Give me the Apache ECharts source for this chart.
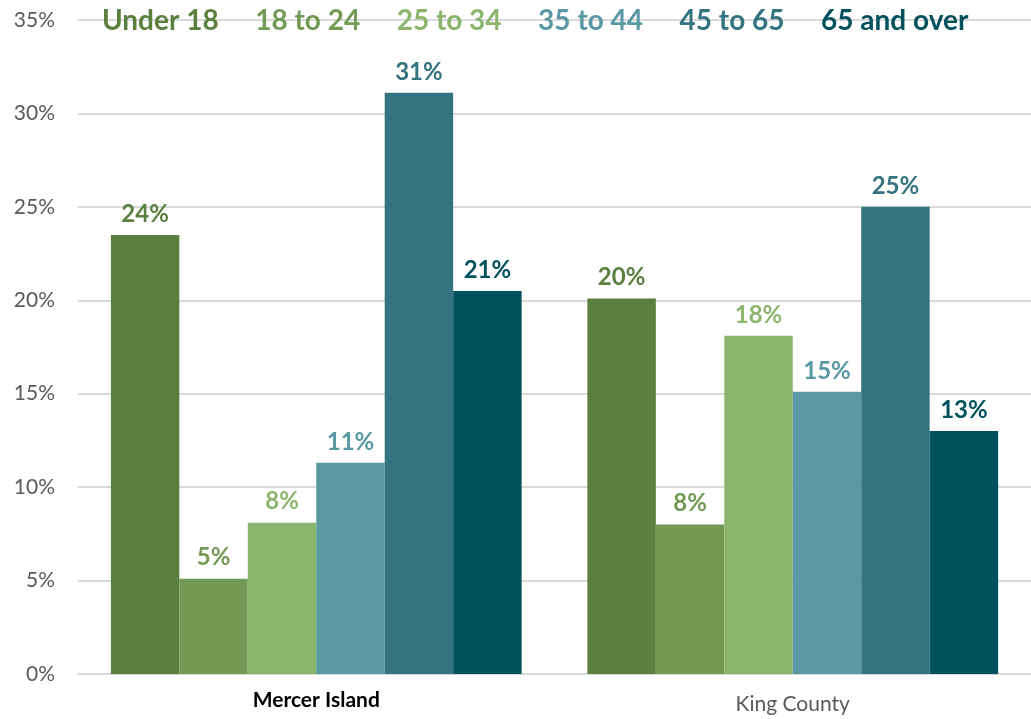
<!DOCTYPE html>
<html><head><meta charset="utf-8">
<script src="https://cdn.jsdelivr.net/npm/echarts@6/dist/echarts.min.js"></script>
<style>html,body{margin:0;padding:0;background:#fff}#c{width:1031px;height:719px}</style>
</head><body><div id="c"></div>
<script>
const categories = ['Mercer Island', 'King County'];
const seriesNames = ['Under 18', '18 to 24', '25 to 34', '35 to 44', '45 to 65', '65 and over'];
const under18 = [23.5, 20.1];
const age18to24 = [5.1, 8.0];
const age25to34 = [8.1, 18.1];
const age35to44 = [11.3, 15.1];
const age45to65 = [31.1, 25.0];
const age65over = [20.5, 13.0];
const yTicks = [0, 5, 10, 15, 20, 25, 30, 35];
const colors = ['#5a7f3e', '#739a55', '#8bb46d', '#5a98a3', '#337480', '#02525d'];
const allValues = [under18, age18to24, age25to34, age35to44, age45to65, age65over];

const chart = echarts.init(document.getElementById('c'));
chart.setOption({
  animation: false,
  textStyle: { fontFamily: 'Lato' },
  legend: {
    top: 2, left: 92, itemWidth: 0, itemHeight: 0, itemGap: 31.5,
    icon: 'rect',
    data: seriesNames.map((n, i) => ({ name: n, textStyle: { color: colors[i], fontSize: 28, fontWeight: 'bold', fontFamily: 'Lato' } }))
  },
  grid: { left: 78, right: -2, top: 20, bottom: 45, containLabel: false },
  xAxis: {
    type: 'category', data: categories,
    axisLine: { lineStyle: { color: '#d9d9d9', width: 2 } },
    axisTick: { show: false },
    axisLabel: {
      margin: 16, fontSize: 21, fontFamily: 'Lato',
      formatter: v => v === 'Mercer Island' ? '{b|' + v + '}' : '{n|' + v + '}',
      rich: {
        b: { fontSize: 21, fontWeight: 'bold', color: '#000', fontFamily: 'Lato' },
        n: { fontSize: 21, color: '#595959', fontFamily: 'Lato', padding: [4, 0, 0, 0] }
      }
    }
  },
  yAxis: {
    type: 'value', min: yTicks[0], max: yTicks[yTicks.length - 1], interval: 5,
    axisLabel: { formatter: '{value}%', fontSize: 21, color: '#595959', margin: 23, fontFamily: 'Lato' },
    splitLine: { lineStyle: { color: '#d9d9d9', width: 2 } },
    axisLine: { show: false }, axisTick: { show: false }
  },
  series: seriesNames.map((n, i) => ({
    name: n, type: 'bar', data: allValues[i],
    barGap: '0%', barCategoryGap: '13.8%',
    itemStyle: { color: colors[i] },
    label: {
      show: true, position: 'top', distance: 9,
      formatter: p => Math.round(p.value) + '%',
      color: colors[i], fontSize: 24, fontWeight: 'bold', fontFamily: 'Lato'
    }
  }))
});
</script></body></html>
